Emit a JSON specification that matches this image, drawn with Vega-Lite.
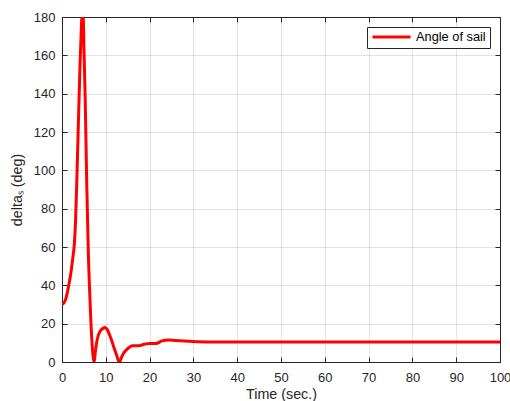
{
  "$schema": "https://vega.github.io/schema/vega-lite/v6.json",
  "width": 438,
  "height": 345,
  "autosize": {"type": "none"},
  "padding": {"left": 62, "top": 17, "right": 10, "bottom": 39},
  "background": "white",
  "config": {
    "font": "Liberation Sans",
    "view": {"stroke": "#262626", "strokeWidth": 1},
    "axis": {
      "domainColor": "#262626",
      "tickColor": "#262626",
      "labelColor": "#262626",
      "titleColor": "#262626",
      "labelFont": "Liberation Sans",
      "titleFont": "Liberation Sans",
      "labelFontSize": 13,
      "titleFontSize": 14.3,
      "titleFontWeight": "normal",
      "gridColor": "#262626",
      "gridOpacity": 0.13,
      "tickSize": -5,
      "labelFlush": false,
      "labelOverlap": false
    }
  },
  "data": {
    "values": [
      {"t": 0, "v": 30, "s": "Angle of sail"},
      {"t": 0.5, "v": 31, "s": "Angle of sail"},
      {"t": 1.0, "v": 34, "s": "Angle of sail"},
      {"t": 1.5, "v": 39.5, "s": "Angle of sail"},
      {"t": 2.0, "v": 46, "s": "Angle of sail"},
      {"t": 2.5, "v": 55, "s": "Angle of sail"},
      {"t": 2.8, "v": 61, "s": "Angle of sail"},
      {"t": 3.1, "v": 74, "s": "Angle of sail"},
      {"t": 3.4, "v": 96, "s": "Angle of sail"},
      {"t": 3.7, "v": 121, "s": "Angle of sail"},
      {"t": 4.1, "v": 154, "s": "Angle of sail"},
      {"t": 4.45, "v": 176, "s": "Angle of sail"},
      {"t": 4.75, "v": 186, "s": "Angle of sail"},
      {"t": 5.05, "v": 160, "s": "Angle of sail"},
      {"t": 5.3, "v": 137, "s": "Angle of sail"},
      {"t": 5.65, "v": 93, "s": "Angle of sail"},
      {"t": 6.0, "v": 58, "s": "Angle of sail"},
      {"t": 6.4, "v": 32, "s": "Angle of sail"},
      {"t": 6.8, "v": 12, "s": "Angle of sail"},
      {"t": 7.35, "v": 0, "s": "Angle of sail"},
      {"t": 7.6, "v": 5, "s": "Angle of sail"},
      {"t": 7.9, "v": 10, "s": "Angle of sail"},
      {"t": 8.3, "v": 14, "s": "Angle of sail"},
      {"t": 8.7, "v": 16, "s": "Angle of sail"},
      {"t": 9.3, "v": 17.5, "s": "Angle of sail"},
      {"t": 9.85, "v": 18, "s": "Angle of sail"},
      {"t": 10.3, "v": 17, "s": "Angle of sail"},
      {"t": 10.8, "v": 14.5, "s": "Angle of sail"},
      {"t": 11.3, "v": 11.5, "s": "Angle of sail"},
      {"t": 11.8, "v": 8, "s": "Angle of sail"},
      {"t": 12.4, "v": 4, "s": "Angle of sail"},
      {"t": 13.1, "v": 0, "s": "Angle of sail"},
      {"t": 13.6, "v": 2.5, "s": "Angle of sail"},
      {"t": 14.1, "v": 4.7, "s": "Angle of sail"},
      {"t": 15, "v": 7, "s": "Angle of sail"},
      {"t": 16, "v": 8.5, "s": "Angle of sail"},
      {"t": 17.5, "v": 8.5, "s": "Angle of sail"},
      {"t": 19, "v": 9.4, "s": "Angle of sail"},
      {"t": 20, "v": 9.7, "s": "Angle of sail"},
      {"t": 21.5, "v": 9.7, "s": "Angle of sail"},
      {"t": 22.8, "v": 11, "s": "Angle of sail"},
      {"t": 24.3, "v": 11.5, "s": "Angle of sail"},
      {"t": 25.9, "v": 11.2, "s": "Angle of sail"},
      {"t": 28, "v": 10.9, "s": "Angle of sail"},
      {"t": 31, "v": 10.6, "s": "Angle of sail"},
      {"t": 35, "v": 10.5, "s": "Angle of sail"},
      {"t": 100, "v": 10.5, "s": "Angle of sail"}
    ]
  },
  "resolve": {"axis": {"x": "independent", "y": "independent"}},
  "layer": [
    {
      "mark": {"type": "line", "strokeWidth": 3, "clip": true, "interpolate": "monotone"},
      "encoding": {
        "x": {
          "field": "t", "type": "quantitative",
          "scale": {"domain": [0, 100], "nice": false, "zero": false},
          "axis": {"orient": "bottom", "values": [0,10,20,30,40,50,60,70,80,90,100], "title": "Time (sec.)", "labelPadding": 14, "titlePadding": 3}
        },
        "y": {
          "field": "v", "type": "quantitative",
          "scale": {"domain": [0, 180], "nice": false},
          "axis": {"orient": "left", "values": [0,20,40,60,80,100,120,140,160,180], "title": "deltaₛ (deg)", "labelPadding": 12, "titlePadding": 9}
        },
        "color": {
          "field": "s", "type": "nominal",
          "scale": {"range": ["#FF0000"]},
          "legend": {
            "title": null,
            "orient": "top-right",
            "offset": 10,
            "symbolType": "stroke",
            "symbolSize": 1444,
            "symbolStrokeWidth": 3,
            "clipHeight": 12,
            "labelFontSize": 12.8,
            "labelOffset": 4,
            "labelColor": "#000000",
            "strokeColor": "#262626",
            "fillColor": "white",
            "padding": 4
          }
        }
      }
    },
    {
      "mark": {"type": "line", "opacity": 0},
      "encoding": {
        "x": {
          "field": "t", "type": "quantitative",
          "axis": {"orient": "top", "values": [0,10,20,30,40,50,60,70,80,90,100], "labels": false, "title": null, "grid": false, "domain": false}
        },
        "y": {
          "field": "v", "type": "quantitative",
          "axis": {"orient": "right", "values": [0,20,40,60,80,100,120,140,160,180], "labels": false, "title": null, "grid": false, "domain": false}
        }
      }
    }
  ]
}
